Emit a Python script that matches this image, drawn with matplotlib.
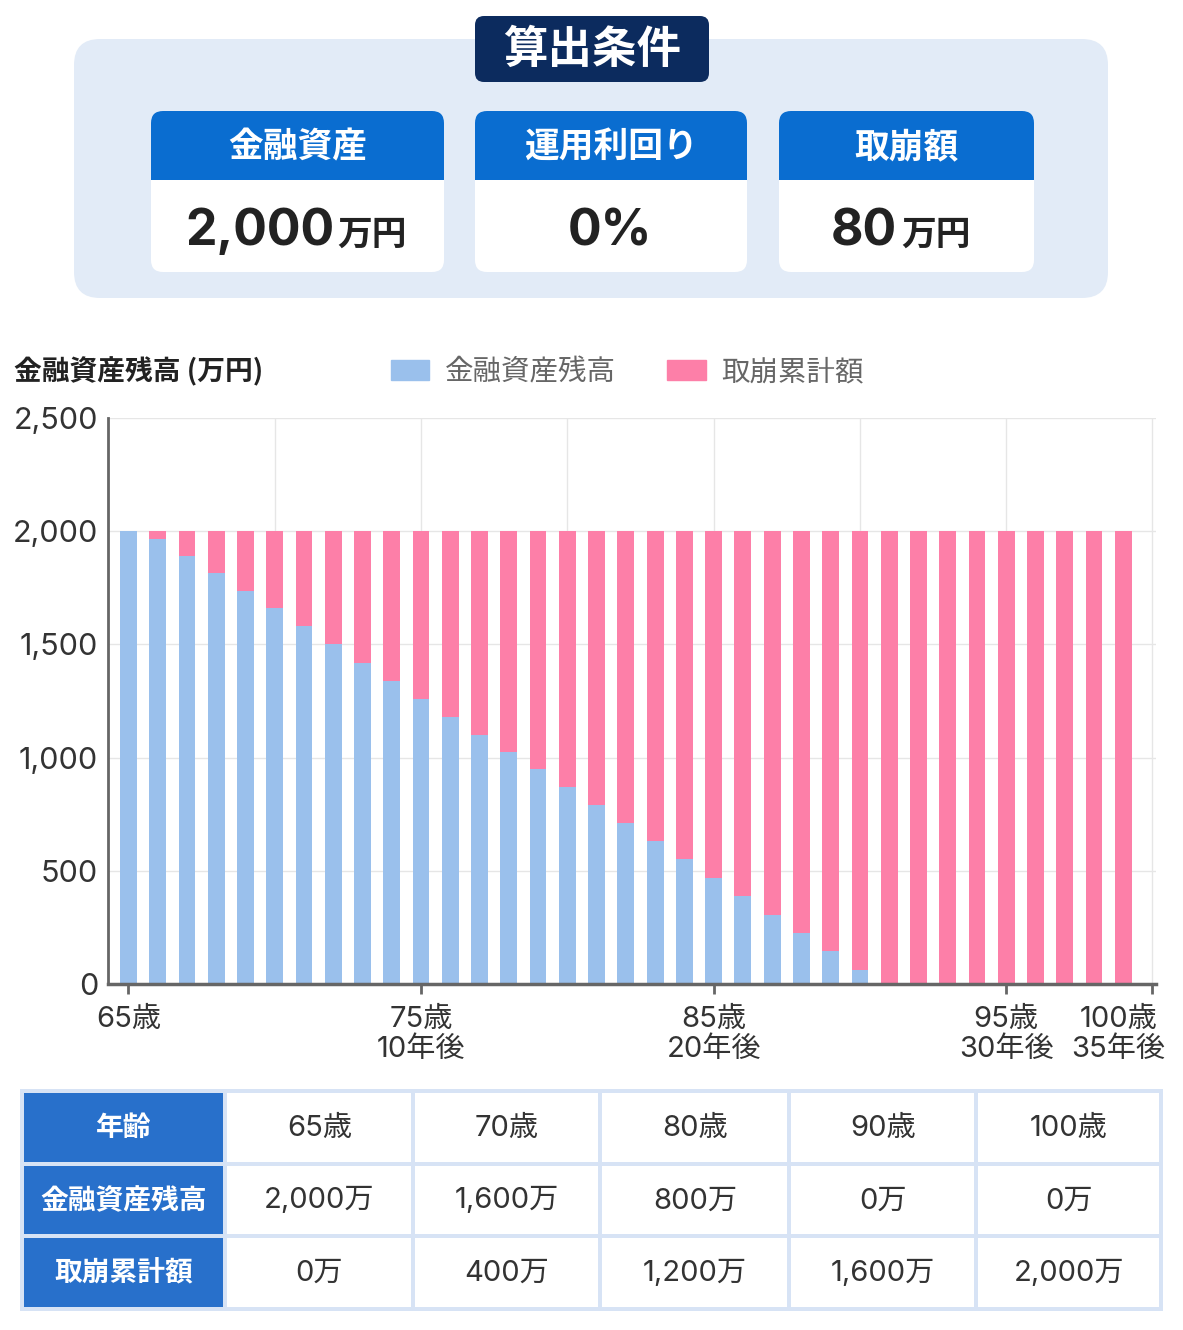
import matplotlib
matplotlib.use("Agg")
import matplotlib.pyplot as plt
import matplotlib.transforms as mtransforms
from matplotlib.patches import FancyBboxPatch, Rectangle, Patch

# Inter for the digits, Noto CJK for the Japanese glyphs
plt.rcParams['font.family'] = ['Inter', 'Noto Sans CJK JP', 'DejaVu Sans']
JP = ['Noto Sans CJK JP', 'DejaVu Sans']

W, H = 1183, 1330

BLUE = '#9ac0ec'
PINK = '#fd7fa8'
NAVY = '#0c2b5e'
CARD_BLUE = '#0a6dd0'
BOX_BG = '#e2ebf7'
TABLE_BLUE = '#2870cb'
TABLE_LINE = '#d7e3f5'

# conditions panel
COND_TITLE = "算出条件"
COND_LABELS = ["金融資産", "運用利回り", "取崩額"]
COND_VALUES = ["2,000", "0%", "80"]
COND_UNITS = ["万円", "", "万円"]

# bars: one per age, in 万円
AGES = [65, 66, 67, 68, 69, 70, 71, 72, 73, 74, 75, 76, 77, 78, 79, 80, 81,
        82, 83, 84, 85, 86, 87, 88, 89, 90, 91, 92, 93, 94, 95, 96, 97, 98, 99]
BALANCE = [2000, 1965, 1890, 1815, 1735, 1660, 1580, 1500, 1420, 1340,
           1260, 1180, 1100, 1025, 950, 870, 790, 710, 630, 550,
           470, 390, 305, 225, 145, 60, 0, 0, 0, 0, 0, 0, 0, 0, 0]
WITHDRAWN = [0, 35, 110, 185, 265, 340, 420, 500, 580, 660,
             740, 820, 900, 975, 1050, 1130, 1210, 1290, 1370, 1450,
             1530, 1610, 1695, 1775, 1855, 1940, 2000, 2000, 2000, 2000,
             2000, 2000, 2000, 2000, 2000]

XTICKS = [65, 75, 85, 95, 100]
XTICK_LABELS = ["65歳", "75歳\n10年後", "85歳\n20年後", "95歳\n30年後", "100歳\n35年後"]
XGRID = [70, 75, 80, 85, 90, 95, 100]
YTICKS = [0, 500, 1000, 1500, 2000, 2500]
YTICK_LABELS = ["0", "500", "1,000", "1,500", "2,000", "2,500"]
LEGEND_LABELS = ["金融資産残高", "取崩累計額"]

# summary table
TABLE_HEAD = ["年齢", "金融資産残高", "取崩累計額"]
TABLE_AGES = ["65歳", "70歳", "80歳", "90歳", "100歳"]
TABLE_BAL = ["2,000万", "1,600万", "800万", "0万", "0万"]
TABLE_WD = ["0万", "400万", "1,200万", "1,600万", "2,000万"]

fig = plt.figure(figsize=(W / 100, H / 100), dpi=100)
fig.patch.set_facecolor('white')

# pixel-space overlay for the panel, title, table
bg = fig.add_axes([0, 0, 1, 1])
bg.set_xlim(0, W)
bg.set_ylim(H, 0)
bg.axis('off')


def rbox(x0, y0, x1, y1, r, color, z=1):
    bg.add_patch(FancyBboxPatch((x0, y0), x1 - x0, y1 - y0,
                                boxstyle=f"round,pad=0,rounding_size={r}",
                                fc=color, ec='none', zorder=z))


# conditions panel
rbox(74, 39, 1108, 298, 26, BOX_BG)
rbox(475, 16, 709, 82, 9, NAVY, z=2)
bg.text(592, 50, COND_TITLE, color='white', fontsize=32, fontweight='bold',
        family=JP, ha='center', va='center', zorder=3)

cards = [(151, 444), (475, 747), (779, 1034)]
for (x0, x1), lab in zip(cards, COND_LABELS):
    rbox(x0, 111, x1, 272, 12, 'white', z=2)
    rbox(x0, 111, x1, 205, 12, CARD_BLUE, z=3)
    bg.add_patch(Rectangle((x0, 180), x1 - x0, 30, fc='white', ec='none', zorder=4))
    bg.text((x0 + x1) / 2, 147, lab, color='white', fontsize=25, fontweight='bold',
            family=JP, ha='center', va='center', zorder=5)

bg.text(335, 245, COND_VALUES[0], fontsize=36, fontweight='bold', color='#222',
        ha='right', va='baseline', zorder=5)
bg.text(337, 245, COND_UNITS[0], fontsize=25, fontweight='bold', color='#222',
        family=JP, ha='left', va='baseline', zorder=5)
bg.text(610, 245, COND_VALUES[1], fontsize=36, fontweight='bold', color='#222',
        ha='center', va='baseline', zorder=5)
bg.text(897, 245, COND_VALUES[2], fontsize=36, fontweight='bold', color='#222',
        ha='right', va='baseline', zorder=5)
bg.text(901, 245, COND_UNITS[2], fontsize=25, fontweight='bold', color='#222',
        family=JP, ha='left', va='baseline', zorder=5)

# chart
bg.text(14, 372, "金融資産残高 (万円)", fontsize=20, fontweight='bold',
        color='#222', family=JP, ha='left', va='center')

ax = fig.add_axes([108 / W, 1 - 984 / H, (1156 - 108) / W, (984 - 418) / H])
ax.set_facecolor('none')
ax.bar(AGES, BALANCE, width=0.575, color=BLUE, zorder=2)
ax.bar(AGES, WITHDRAWN, bottom=BALANCE, width=0.575, color=PINK, zorder=2)
ax.set_xlim(64.3, 100.12)
ax.set_ylim(0, 2500)
ax.set_yticks(YTICKS, YTICK_LABELS)
ax.set_xticks(XTICKS, XTICK_LABELS)
for gx in XGRID:
    ax.axvline(gx, color='#e6e6e6', lw=1, zorder=0)
ax.grid(which='major', axis='y', color='#e6e6e6', lw=1, zorder=0)
ax.set_axisbelow(True)
ax.tick_params(axis='x', which='major', length=7, width=2, color='#666',
               labelsize=21, labelcolor='#333', pad=9)
ax.tick_params(axis='y', length=0, pad=7, labelsize=22, labelcolor='#333')
for lbl in ax.get_xticklabels():
    lbl.set_linespacing(1.12)
last = ax.get_xticklabels()[-1]
last.set_transform(last.get_transform() +
                   mtransforms.ScaledTranslation(-0.34, 0, fig.dpi_scale_trans))
for s in ['top', 'right']:
    ax.spines[s].set_visible(False)
ax.spines['left'].set_color('#666')
ax.spines['left'].set_linewidth(2)
ax.spines['bottom'].set_color('#666')
ax.spines['bottom'].set_linewidth(2.5)

fig.legend([Patch(color=BLUE), Patch(color=PINK)], LEGEND_LABELS,
           loc='center left', bbox_to_anchor=(391 / W, 1 - 372 / H), ncol=2,
           frameon=False, labelcolor='#666', handlelength=1.35,
           handleheight=0.75, handletextpad=0.55, columnspacing=1.8,
           borderpad=0, borderaxespad=0, prop={'family': JP, 'size': 20.5})

# summary table
col_edges = [22, 225.5, 413.5, 600.5, 789.5, 976.5, 1161]
row_edges = [1091, 1163.5, 1236, 1309]
bg.add_patch(Rectangle((20, 1089), 1143, 222, fc=TABLE_LINE, ec='none', zorder=1))
rows = [TABLE_AGES, TABLE_BAL, TABLE_WD]
for r in range(3):
    y0, y1 = row_edges[r], row_edges[r + 1]
    for c in range(6):
        x0, x1 = col_edges[c], col_edges[c + 1]
        fc = TABLE_BLUE if c == 0 else 'white'
        bg.add_patch(Rectangle((x0 + 2, y0 + 2), x1 - x0 - 4, y1 - y0 - 4,
                               fc=fc, ec='none', zorder=2))
        cx, cy = (x0 + x1) / 2, (y0 + y1) / 2
        if c == 0:
            bg.text(cx, cy + 1, TABLE_HEAD[r], color='white', fontsize=20,
                    fontweight='bold', family=JP, ha='center', va='center', zorder=3)
        else:
            bg.text(cx, cy + 1, rows[r][c - 1], color='#333', fontsize=21,
                    ha='center', va='center', zorder=3)

fig.savefig('out.png', dpi=100)
